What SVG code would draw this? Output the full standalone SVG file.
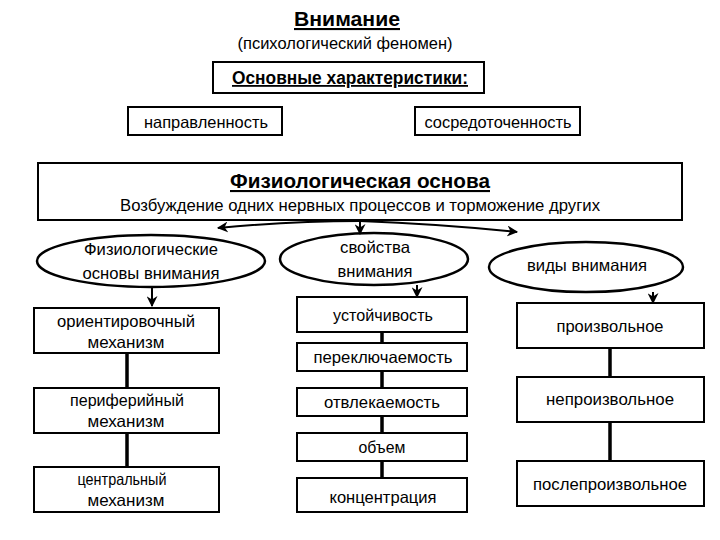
<svg xmlns="http://www.w3.org/2000/svg" width="720" height="540" viewBox="0 0 720 540">
<defs>
<style>
text{font-family:"Liberation Sans","DejaVu Sans",sans-serif;font-size:16.5px;fill:#000;text-anchor:middle}
.b{font-weight:bold}
.u{text-decoration:underline}
.box{fill:#fff;stroke:#000;stroke-width:2}
.ell{fill:#fff;stroke:#000;stroke-width:2.5}
.con{fill:none;stroke:#000;stroke-width:3.5}
.arr{fill:none;stroke:#000;stroke-width:2}
</style>
<marker id="ah" viewBox="0 0 10 10" refX="9" refY="5" markerWidth="11" markerHeight="11" markerUnits="userSpaceOnUse" orient="auto">
<path d="M0,0 L10,5 L0,10 L3,5 Z" fill="#000"/>
</marker>
</defs>
<rect width="720" height="540" fill="#fff"/>

<g id="title">
<text x="347" y="26" class="b u" style="font-size:21px" textLength="106" lengthAdjust="spacingAndGlyphs">Внимание</text>
<text x="345" y="49" textLength="215" lengthAdjust="spacingAndGlyphs">(психологический феномен)</text>
</g>

<g id="characteristics">
<rect class="box" x="213" y="62" width="271" height="31"/>
<text x="350" y="84" class="b u" style="font-size:18px" textLength="236" lengthAdjust="spacingAndGlyphs">Основные характеристики:</text>
</g>
<g id="napravlennost">
<rect class="box" x="128" y="107" width="154" height="28"/>
<text x="206" y="128" textLength="124" lengthAdjust="spacingAndGlyphs">направленность</text>
</g>
<g id="sosredotochennost">
<rect class="box" x="415" y="107" width="165" height="28"/>
<text x="498" y="128" textLength="147" lengthAdjust="spacingAndGlyphs">сосредоточенность</text>
</g>

<g id="fiziolog-osnova">
<rect class="box" x="38" y="163" width="644" height="57"/>
<text x="360" y="188" class="b u" style="font-size:21px" textLength="260" lengthAdjust="spacingAndGlyphs">Физиологическая основа</text>
<text x="360" y="211" textLength="480" lengthAdjust="spacingAndGlyphs">Возбуждение одних нервных процессов и торможение других</text>
</g>

<g id="ell-fiz">
<ellipse class="ell" cx="151" cy="261" rx="114" ry="26"/>
<text x="151" y="255" textLength="134" lengthAdjust="spacingAndGlyphs">Физиологические</text>
<text x="151" y="279" textLength="137" lengthAdjust="spacingAndGlyphs">основы внимания</text>
</g>
<g id="ell-svoistva">
<ellipse class="ell" cx="374" cy="259" rx="94" ry="26"/>
<text x="375" y="253" textLength="70" lengthAdjust="spacingAndGlyphs">свойства</text>
<text x="375" y="277" textLength="75" lengthAdjust="spacingAndGlyphs">внимания</text>
</g>
<g id="ell-vidy">
<ellipse class="ell" cx="586" cy="267" rx="97" ry="25"/>
<text x="587" y="271" textLength="120" lengthAdjust="spacingAndGlyphs">виды внимания</text>
</g>

<g id="orient">
<rect class="box" x="34" y="308" width="185" height="45"/>
<text x="126" y="327" textLength="138" lengthAdjust="spacingAndGlyphs">ориентировочный</text>
<text x="126" y="348" textLength="77" lengthAdjust="spacingAndGlyphs">механизм</text>
</g>
<g id="perif">
<rect class="box" x="34" y="388" width="185" height="45"/>
<text x="127" y="406" textLength="114" lengthAdjust="spacingAndGlyphs">периферийный</text>
<text x="126" y="427" textLength="77" lengthAdjust="spacingAndGlyphs">механизм</text>
</g>
<g id="central">
<rect class="box" x="34" y="467" width="185" height="45"/>
<text x="122" y="485" textLength="89" lengthAdjust="spacingAndGlyphs">центральный</text>
<text x="126" y="506" textLength="77" lengthAdjust="spacingAndGlyphs">механизм</text>
</g>

<g id="ustoichivost">
<rect class="box" x="297" y="297" width="170" height="35"/>
<text x="383" y="321" textLength="100" lengthAdjust="spacingAndGlyphs">устойчивость</text>
</g>
<g id="pereklyuchaemost">
<rect class="box" x="297" y="343" width="170" height="28"/>
<text x="383" y="363" textLength="139" lengthAdjust="spacingAndGlyphs">переключаемость</text>
</g>
<g id="otvlekaemost">
<rect class="box" x="297" y="388" width="170" height="28"/>
<text x="382" y="408" textLength="116" lengthAdjust="spacingAndGlyphs">отвлекаемость</text>
</g>
<g id="obem">
<rect class="box" x="297" y="433" width="170" height="28"/>
<text x="382" y="453" textLength="47" lengthAdjust="spacingAndGlyphs">объем</text>
</g>
<g id="koncentraciya">
<rect class="box" x="297" y="478" width="170" height="34"/>
<text x="383" y="503" textLength="107" lengthAdjust="spacingAndGlyphs">концентрация</text>
</g>

<g id="proizvolnoe">
<rect class="box" x="517" y="303" width="187" height="45"/>
<text x="610" y="332" textLength="107" lengthAdjust="spacingAndGlyphs">произвольное</text>
</g>
<g id="neproizvolnoe">
<rect class="box" x="517" y="377" width="187" height="45"/>
<text x="610" y="405" textLength="128" lengthAdjust="spacingAndGlyphs">непроизвольное</text>
</g>
<g id="posleproizvolnoe">
<rect class="box" x="517" y="461" width="187" height="45"/>
<text x="610" y="490" textLength="154" lengthAdjust="spacingAndGlyphs">послепроизвольное</text>
</g>

<g id="connectors">
<path class="con" d="M127,353 V388 M127,433 V467"/>
<path class="con" d="M382,332 V343 M382,371 V388 M382,416 V433 M382,461 V478"/>
<path class="con" d="M610,348 V377 M610,422 V461"/>
<path class="arr" stroke-width="3" d="M360,221 Q290,221 218,228" marker-end="url(#ah)"/>
<path class="arr" stroke-width="3" d="M360,221 Q440,224 517,232" marker-end="url(#ah)"/>
<path class="arr" d="M360,220 V234" marker-end="url(#ah)"/>
<path class="arr" d="M152,287 V306" marker-end="url(#ah)"/>
<path class="arr" d="M417,285 V297" marker-end="url(#ah)"/>
<path class="arr" d="M653,292 V303" marker-end="url(#ah)"/>
</g>
</svg>
